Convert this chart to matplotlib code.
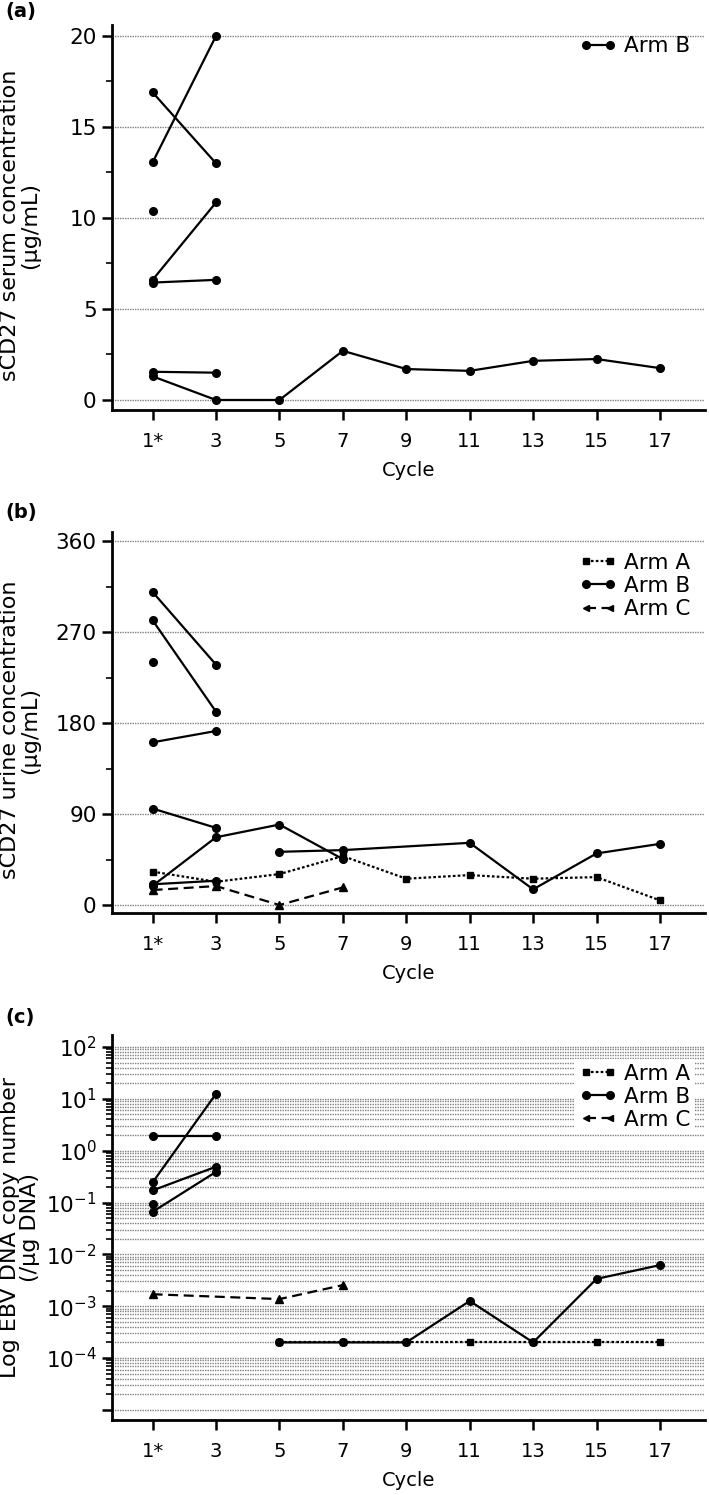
import numpy as np
import matplotlib
matplotlib.use("Agg")
import matplotlib.pyplot as plt
from matplotlib.lines import Line2D
from matplotlib.ticker import FixedLocator, NullFormatter

plt.rcParams['font.family'] = ['DejaVu Sans']

# ---------------- data ----------------
cycles = [1, 3, 5, 7, 9, 11, 13, 15, 17]
cycle_labels = ['1*', '3', '5', '7', '9', '11', '13', '15', '17']

# Panel (a): serum sCD27, Arm B patients
a_B_p1 = ([1, 3], [16.9, 13.0])
a_B_p2 = ([1, 3], [13.05, 20.0])
a_B_p3 = ([1], [10.4])
a_B_p4 = ([1, 3], [6.6, 10.85])
a_B_p5 = ([1, 3], [6.45, 6.6])
a_B_p6 = ([1, 3], [1.55, 1.5])
a_B_p7 = ([1, 3, 5, 7, 9, 11, 13, 15, 17], [1.3, 0.0, 0.0, 2.7, 1.7, 1.6, 2.15, 2.25, 1.75])
a_B = [a_B_p1, a_B_p2, a_B_p3, a_B_p4, a_B_p5, a_B_p6, a_B_p7]

# Panel (b): urine sCD27
b_A_p1 = ([1, 3, 5, 7, 9, 11, 13, 15, 17], [33, 23, 30.6, 48.4, 26, 29.6, 26, 27.6, 4.6])
b_B_p1 = ([1, 3], [309.6, 237.7])
b_B_p2 = ([1, 3], [281.6, 191.2])
b_B_p3 = ([1], [240.7])
b_B_p4 = ([1, 3], [160.9, 172.1])
b_B_p5 = ([1, 3], [95.4, 76.3])
b_B_p6 = ([1, 3, 5, 7], [19, 67, 79.6, 45.4])
b_B_p7 = ([1, 3], [20.5, 24])
b_B_p8 = ([5, 7, 11, 13, 15, 17], [52.6, 54.3, 61.5, 15.5, 51, 60.5])
b_C_p1 = ([1, 3, 5, 7], [14.8, 18.75, 0, 17.4])
b_A = [b_A_p1]
b_B = [b_B_p1, b_B_p2, b_B_p3, b_B_p4, b_B_p5, b_B_p6, b_B_p7, b_B_p8]
b_C = [b_C_p1]

# Panel (c): EBV DNA copy number
c_A_p1 = ([5, 7, 9, 11, 13, 15, 17], [2e-4, 2e-4, 2e-4, 2e-4, 2e-4, 2e-4, 2e-4])
c_B_p1 = ([1, 3], [1.92, 1.92])
c_B_p2 = ([1, 3], [0.244, 12.5])
c_B_p3 = ([1, 3], [0.171, 0.49])
c_B_p4 = ([1], [0.093])
c_B_p5 = ([1, 3], [0.066, 0.39])
c_B_p6 = ([5, 7, 9, 11, 13, 15, 17], [2e-4, 2e-4, 2e-4, 1.26e-3, 2e-4, 3.36e-3, 6.2e-3])
c_C_p1 = ([1, 5, 7], [1.7e-3, 1.37e-3, 2.55e-3])
c_A = [c_A_p1]
c_B = [c_B_p1, c_B_p2, c_B_p3, c_B_p4, c_B_p5, c_B_p6]
c_C = [c_C_p1]

# ---------------- styles ----------------
LW = 1.6
MS = 5.5
style_A = dict(color='black', lw=LW, linestyle=(0, (1.2, 1.0)), marker='s', ms=MS - 0.5)
style_B = dict(color='black', lw=LW, linestyle='-', marker='o', ms=MS)
style_C = dict(color='black', lw=LW, linestyle=(0, (4.5, 2.5)), marker='^', ms=MS + 0.5)
GRID = dict(color='#808080', lw=1.0, linestyle=(0, (1, 0.8)))

fig = plt.figure(figsize=(7.09, 14.95), dpi=100)
W, H = 709.0, 1495.0
left = 112 / W
width = (705 - 112) / W


def make_ax(top_px, bot_px):
    return fig.add_axes([left, 1 - bot_px / H, width, (bot_px - top_px) / H])


def style_ax(ax):
    for s in ['top', 'right']:
        ax.spines[s].set_visible(False)
    for s in ['left', 'bottom']:
        ax.spines[s].set_linewidth(2.0)
    ax.set_xlim(-0.28, 18.42)
    ax.set_xticks(cycles)
    ax.set_xticklabels(cycle_labels, fontsize=14)
    ax.tick_params(axis='x', which='major', length=7, width=1.8, pad=9)
    ax.tick_params(axis='y', which='major', length=7, width=1.8, labelsize=15.5, pad=4)
    ax.tick_params(axis='y', which='minor', length=4, width=1.2)
    ax.set_xlabel('Cycle', fontsize=14, labelpad=7)
    ax.set_axisbelow(True)


def plot_series(ax, series, style):
    for xs, ys in series:
        ax.plot(xs, ys, **style, zorder=3)


legend_kw = dict(frameon=False, fontsize=15.5, handlelength=1.7, handletextpad=0.35,
                 labelspacing=0.15, numpoints=2, borderpad=0.2)

YLAB_FS = 16

# ---------- panel (a) ----------
ax = make_ax(25, 410)
style_ax(ax)
ax.set_ylim(-0.55, 20.6)
ax.set_yticks([0, 5, 10, 15, 20])
ax.set_yticks([2.5, 7.5, 12.5, 17.5], minor=True)
ax.yaxis.grid(True, which='major', **GRID)
plot_series(ax, a_B, style_B)
ax.set_ylabel('sCD27 serum concentration\n(µg/mL)', fontsize=YLAB_FS, linespacing=0.95)
ax.yaxis.set_label_coords(-0.122, 0.48)
h_B = Line2D([], [], **style_B)
ax.legend([h_B], ['Arm B'], loc='upper right', bbox_to_anchor=(1.0, 1.01), **legend_kw)
fig.text(0.007, 1 - 12 / H, '(a)', fontsize=14, fontweight='bold', va='center')

# ---------- panel (b) ----------
ax = make_ax(532, 913)
style_ax(ax)
ax.set_ylim(-7.9, 368.9)
ax.set_yticks([0, 90, 180, 270, 360])
ax.set_yticks([45, 135, 225, 315], minor=True)
ax.yaxis.grid(True, which='major', **GRID)
plot_series(ax, b_A, style_A)
plot_series(ax, b_C, style_C)
plot_series(ax, b_B, style_B)
ax.set_ylabel('sCD27 urine concentration\n(µg/mL)', fontsize=YLAB_FS, linespacing=0.95)
ax.yaxis.set_label_coords(-0.122, 0.48)
h_A = Line2D([], [], **style_A)
h_C = Line2D([], [], **{**style_C, 'marker': '<', 'ms': MS - 1})
ax.legend([h_A, h_B, h_C], ['Arm A', 'Arm B', 'Arm C'], loc='upper right',
          bbox_to_anchor=(1.0, 0.985), **legend_kw)
fig.text(0.007, 1 - 512 / H, '(b)', fontsize=14, fontweight='bold', va='center')

# ---------- panel (c) ----------
ax = make_ax(1035, 1420)
style_ax(ax)
ax.set_yscale('log')
ax.set_ylim(10 ** -5.196, 10 ** 2.2315)
major = [10.0 ** e for e in range(-5, 3)]
minor = [k * 10.0 ** e for e in range(-5, 2) for k in range(2, 10)]
ax.yaxis.set_major_locator(FixedLocator(major))
ax.yaxis.set_minor_locator(FixedLocator(minor))
ax.yaxis.set_minor_formatter(NullFormatter())
ax.set_yticklabels([''] + [r'$\mathregular{10^{%d}}$' % e for e in range(-4, 3)])
ax.yaxis.grid(True, which='both', **GRID)
plot_series(ax, c_B, style_B)
plot_series(ax, c_C, style_C)
plot_series(ax, c_A, style_A)
ax.set_ylabel('Log EBV DNA copy number\n(/µg DNA)', fontsize=YLAB_FS, linespacing=0.95)
ax.yaxis.set_label_coords(-0.122, 0.5)
leg = ax.legend([h_A, h_B, h_C], ['Arm A', 'Arm B', 'Arm C'], loc='upper right',
                bbox_to_anchor=(1.0, 0.965), **{**legend_kw, 'frameon': True})
leg.get_frame().set_facecolor('white')
leg.get_frame().set_edgecolor('none')
leg.get_frame().set_alpha(1.0)
leg.get_frame().set_boxstyle('square', pad=0)
fig.text(0.007, 1 - 1017 / H, '(c)', fontsize=14, fontweight='bold', va='center')

fig.savefig('out.png', dpi=100)
